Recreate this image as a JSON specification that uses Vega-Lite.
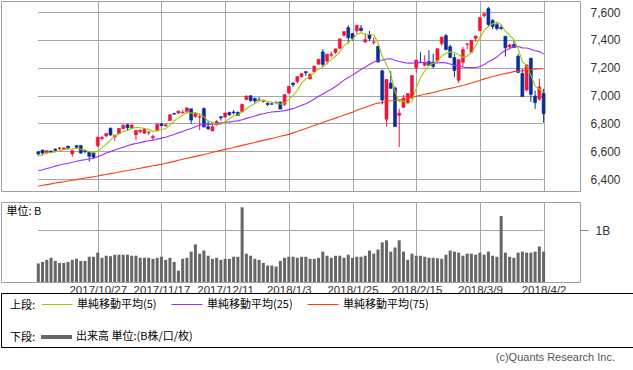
{
 "$schema": "https://vega.github.io/schema/vega-lite/v6.json",
 "padding": 0,
 "background": "white",
 "spacing": 11,
 "bounds": "flush",
 "datasets": {"px": [
{"d":"2017/10/9","o":6596,"h":6600,"l":6570,"c":6580,"v":0.36,"m5":6564,"m25":6459,"m75":6350},
{"d":"2017/10/10","o":6608,"h":6612,"l":6570,"c":6587,"v":0.39,"m5":6575,"m25":6467,"m75":6355},
{"d":"2017/10/11","o":6588,"h":6604,"l":6580,"c":6604,"v":0.43,"m5":6589,"m25":6476,"m75":6360},
{"d":"2017/10/12","o":6598,"h":6610,"l":6585,"c":6592,"v":0.47,"m5":6591,"m25":6483,"m75":6365},
{"d":"2017/10/13","o":6615,"h":6620,"l":6600,"c":6606,"v":0.41,"m5":6594,"m25":6493,"m75":6371},
{"d":"2017/10/16","o":6618,"h":6628,"l":6610,"c":6624,"v":0.37,"m5":6603,"m25":6501,"m75":6376},
{"d":"2017/10/17","o":6616,"h":6625,"l":6610,"c":6624,"v":0.37,"m5":6610,"m25":6508,"m75":6381},
{"d":"2017/10/18","o":6636,"h":6640,"l":6615,"c":6624,"v":0.39,"m5":6614,"m25":6514,"m75":6386},
{"d":"2017/10/19","o":6580,"h":6607,"l":6559,"c":6605,"v":0.43,"m5":6617,"m25":6521,"m75":6391},
{"d":"2017/10/20","o":6640,"h":6645,"l":6620,"c":6629,"v":0.45,"m5":6621,"m25":6528,"m75":6396},
{"d":"2017/10/23","o":6640,"h":6645,"l":6580,"c":6587,"v":0.41,"m5":6614,"m25":6534,"m75":6401},
{"d":"2017/10/24","o":6604,"h":6610,"l":6585,"c":6598,"v":0.41,"m5":6609,"m25":6539,"m75":6407},
{"d":"2017/10/25","o":6594,"h":6597,"l":6525,"c":6564,"v":0.49,"m5":6597,"m25":6544,"m75":6412},
{"d":"2017/10/26","o":6590,"h":6592,"l":6550,"c":6557,"v":0.49,"m5":6587,"m25":6549,"m75":6417},
{"d":"2017/10/27","o":6640,"h":6705,"l":6630,"c":6701,"v":0.57,"m5":6601,"m25":6560,"m75":6422},
{"d":"2017/10/30","o":6690,"h":6712,"l":6682,"c":6699,"v":0.47,"m5":6624,"m25":6573,"m75":6428},
{"d":"2017/10/31","o":6710,"h":6728,"l":6700,"c":6728,"v":0.51,"m5":6650,"m25":6587,"m75":6433},
{"d":"2017/11/1","o":6765,"h":6770,"l":6710,"c":6717,"v":0.50,"m5":6680,"m25":6597,"m75":6439},
{"d":"2017/11/2","o":6704,"h":6715,"l":6675,"c":6715,"v":0.53,"m5":6712,"m25":6608,"m75":6444},
{"d":"2017/11/3","o":6727,"h":6765,"l":6720,"c":6764,"v":0.53,"m5":6725,"m25":6619,"m75":6450},
{"d":"2017/11/6","o":6762,"h":6795,"l":6760,"c":6786,"v":0.53,"m5":6742,"m25":6629,"m75":6456},
{"d":"2017/11/7","o":6791,"h":6795,"l":6752,"c":6768,"v":0.53,"m5":6750,"m25":6639,"m75":6461},
{"d":"2017/11/8","o":6767,"h":6790,"l":6760,"c":6789,"v":0.51,"m5":6764,"m25":6649,"m75":6467},
{"d":"2017/11/9","o":6718,"h":6752,"l":6680,"c":6750,"v":0.51,"m5":6771,"m25":6656,"m75":6472},
{"d":"2017/11/10","o":6741,"h":6755,"l":6730,"c":6751,"v":0.47,"m5":6769,"m25":6662,"m75":6478},
{"d":"2017/11/13","o":6730,"h":6765,"l":6725,"c":6758,"v":0.47,"m5":6763,"m25":6669,"m75":6484},
{"d":"2017/11/14","o":6735,"h":6745,"l":6715,"c":6738,"v":0.47,"m5":6757,"m25":6675,"m75":6489},
{"d":"2017/11/15","o":6696,"h":6720,"l":6680,"c":6706,"v":0.45,"m5":6741,"m25":6679,"m75":6495},
{"d":"2017/11/16","o":6746,"h":6800,"l":6745,"c":6793,"v":0.47,"m5":6749,"m25":6687,"m75":6500},
{"d":"2017/11/17","o":6797,"h":6800,"l":6780,"c":6783,"v":0.49,"m5":6756,"m25":6694,"m75":6506},
{"d":"2017/11/20","o":6783,"h":6792,"l":6775,"c":6791,"v":0.43,"m5":6762,"m25":6701,"m75":6513},
{"d":"2017/11/21","o":6820,"h":6865,"l":6820,"c":6862,"v":0.47,"m5":6787,"m25":6711,"m75":6520},
{"d":"2017/11/22","o":6872,"h":6875,"l":6860,"c":6867,"v":0.39,"m5":6819,"m25":6720,"m75":6527},
{"d":"2017/11/24","o":6874,"h":6890,"l":6870,"c":6889,"v":0.22,"m5":6838,"m25":6732,"m75":6535},
{"d":"2017/11/27","o":6875,"h":6898,"l":6872,"c":6879,"v":0.45,"m5":6858,"m25":6742,"m75":6542},
{"d":"2017/11/28","o":6885,"h":6914,"l":6870,"c":6912,"v":0.47,"m5":6882,"m25":6755,"m75":6549},
{"d":"2017/11/29","o":6905,"h":6906,"l":6795,"c":6824,"v":0.59,"m5":6874,"m25":6764,"m75":6556},
{"d":"2017/11/30","o":6850,"h":6880,"l":6840,"c":6874,"v":0.73,"m5":6876,"m25":6776,"m75":6563},
{"d":"2017/12/1","o":6845,"h":6870,"l":6752,"c":6848,"v":0.55,"m5":6867,"m25":6788,"m75":6570},
{"d":"2017/12/4","o":6907,"h":6915,"l":6770,"c":6775,"v":0.61,"m5":6847,"m25":6791,"m75":6577},
{"d":"2017/12/5","o":6776,"h":6820,"l":6750,"c":6762,"v":0.51,"m5":6817,"m25":6793,"m75":6584},
{"d":"2017/12/6","o":6746,"h":6790,"l":6745,"c":6776,"v":0.45,"m5":6807,"m25":6795,"m75":6592},
{"d":"2017/12/7","o":6790,"h":6825,"l":6785,"c":6813,"v":0.47,"m5":6795,"m25":6799,"m75":6599},
{"d":"2017/12/8","o":6848,"h":6850,"l":6820,"c":6840,"v":0.43,"m5":6793,"m25":6804,"m75":6606},
{"d":"2017/12/11","o":6846,"h":6876,"l":6840,"c":6875,"v":0.45,"m5":6813,"m25":6808,"m75":6613},
{"d":"2017/12/12","o":6878,"h":6885,"l":6855,"c":6862,"v":0.45,"m5":6833,"m25":6811,"m75":6620},
{"d":"2017/12/13","o":6882,"h":6895,"l":6865,"c":6876,"v":0.49,"m5":6853,"m25":6816,"m75":6627},
{"d":"2017/12/14","o":6880,"h":6885,"l":6855,"c":6857,"v":0.49,"m5":6862,"m25":6818,"m75":6635},
{"d":"2017/12/15","o":6885,"h":6940,"l":6880,"c":6937,"v":1.45,"m5":6881,"m25":6826,"m75":6642},
{"d":"2017/12/18","o":6971,"h":7003,"l":6970,"c":6995,"v":0.55,"m5":6905,"m25":6836,"m75":6649},
{"d":"2017/12/19","o":6999,"h":7000,"l":6955,"c":6964,"v":0.51,"m5":6926,"m25":6844,"m75":6656},
{"d":"2017/12/20","o":6981,"h":6984,"l":6945,"c":6961,"v":0.45,"m5":6943,"m25":6853,"m75":6663},
{"d":"2017/12/21","o":6968,"h":6990,"l":6960,"c":6965,"v":0.43,"m5":6964,"m25":6863,"m75":6671},
{"d":"2017/12/22","o":6958,"h":6966,"l":6950,"c":6960,"v":0.37,"m5":6969,"m25":6870,"m75":6678},
{"d":"2017/12/26","o":6945,"h":6950,"l":6925,"c":6936,"v":0.32,"m5":6957,"m25":6876,"m75":6685},
{"d":"2017/12/27","o":6940,"h":6955,"l":6933,"c":6939,"v":0.32,"m5":6952,"m25":6882,"m75":6692},
{"d":"2017/12/28","o":6954,"h":6955,"l":6938,"c":6950,"v":0.30,"m5":6950,"m25":6885,"m75":6699},
{"d":"2017/12/29","o":6954,"h":6955,"l":6902,"c":6903,"v":0.41,"m5":6938,"m25":6887,"m75":6707},
{"d":"2018/1/2","o":6937,"h":7007,"l":6925,"c":7007,"v":0.47,"m5":6947,"m25":6892,"m75":6714},
{"d":"2018/1/3","o":7018,"h":7070,"l":7015,"c":7066,"v":0.49,"m5":6973,"m25":6899,"m75":6721},
{"d":"2018/1/4","o":7090,"h":7095,"l":7063,"c":7078,"v":0.49,"m5":7001,"m25":6906,"m75":6732},
{"d":"2018/1/5","o":7100,"h":7137,"l":7088,"c":7137,"v":0.47,"m5":7038,"m25":6918,"m75":6742},
{"d":"2018/1/8","o":7136,"h":7162,"l":7130,"c":7157,"v":0.49,"m5":7089,"m25":6930,"m75":6753},
{"d":"2018/1/9","o":7172,"h":7175,"l":7140,"c":7164,"v":0.49,"m5":7120,"m25":6942,"m75":6764},
{"d":"2018/1/10","o":7120,"h":7158,"l":7115,"c":7154,"v":0.45,"m5":7138,"m25":6957,"m75":6774},
{"d":"2018/1/11","o":7170,"h":7212,"l":7165,"c":7212,"v":0.45,"m5":7165,"m25":6975,"m75":6785},
{"d":"2018/1/12","o":7225,"h":7262,"l":7225,"c":7261,"v":0.47,"m5":7190,"m25":6995,"m75":6796},
{"d":"2018/1/16","o":7314,"h":7333,"l":7208,"c":7224,"v":0.59,"m5":7203,"m25":7011,"m75":6806},
{"d":"2018/1/17","o":7248,"h":7299,"l":7225,"c":7298,"v":0.51,"m5":7230,"m25":7030,"m75":6817},
{"d":"2018/1/18","o":7290,"h":7316,"l":7275,"c":7296,"v":0.47,"m5":7258,"m25":7046,"m75":6828},
{"d":"2018/1/19","o":7310,"h":7337,"l":7300,"c":7336,"v":0.51,"m5":7283,"m25":7065,"m75":6838},
{"d":"2018/1/22","o":7340,"h":7408,"l":7338,"c":7408,"v":0.51,"m5":7312,"m25":7087,"m75":6849},
{"d":"2018/1/23","o":7433,"h":7461,"l":7425,"c":7460,"v":0.47,"m5":7360,"m25":7111,"m75":6860},
{"d":"2018/1/24","o":7489,"h":7505,"l":7375,"c":7415,"v":0.53,"m5":7383,"m25":7130,"m75":6870},
{"d":"2018/1/25","o":7446,"h":7451,"l":7395,"c":7411,"v":0.47,"m5":7406,"m25":7147,"m75":6881},
{"d":"2018/1/26","o":7465,"h":7506,"l":7445,"c":7506,"v":0.49,"m5":7440,"m25":7168,"m75":6894},
{"d":"2018/1/29","o":7485,"h":7508,"l":7460,"c":7467,"v":0.49,"m5":7452,"m25":7188,"m75":6906},
{"d":"2018/1/30","o":7385,"h":7446,"l":7380,"c":7402,"v":0.51,"m5":7440,"m25":7206,"m75":6916},
{"d":"2018/1/31","o":7440,"h":7465,"l":7390,"c":7411,"v":0.61,"m5":7439,"m25":7224,"m75":6927},
{"d":"2018/2/1","o":7382,"h":7418,"l":7366,"c":7386,"v":0.55,"m5":7434,"m25":7242,"m75":6937},
{"d":"2018/2/2","o":7353,"h":7360,"l":7237,"c":7241,"v":0.63,"m5":7381,"m25":7254,"m75":6946},
{"d":"2018/2/5","o":7178,"h":7188,"l":6936,"c":6968,"v":0.77,"m5":7282,"m25":7255,"m75":6950},
{"d":"2018/2/6","o":6830,"h":7117,"l":6777,"c":7116,"v":0.81,"m5":7224,"m25":7263,"m75":6957},
{"d":"2018/2/7","o":7090,"h":7175,"l":7050,"c":7052,"v":0.59,"m5":7153,"m25":7265,"m75":6963},
{"d":"2018/2/8","o":7055,"h":7065,"l":6777,"c":6777,"v":0.67,"m5":7031,"m25":7254,"m75":6965},
{"d":"2018/2/9","o":6858,"h":6906,"l":6630,"c":6874,"v":0.81,"m5":6957,"m25":7245,"m75":6969},
{"d":"2018/2/12","o":6915,"h":7004,"l":6914,"c":6982,"v":0.59,"m5":6960,"m25":7239,"m75":6974},
{"d":"2018/2/13","o":6951,"h":7014,"l":6944,"c":7014,"v":0.43,"m5":6940,"m25":7233,"m75":6980},
{"d":"2018/2/14","o":6984,"h":7146,"l":6977,"c":7144,"v":0.55,"m5":6958,"m25":7233,"m75":6988},
{"d":"2018/2/15","o":7200,"h":7256,"l":7166,"c":7256,"v":0.51,"m5":7054,"m25":7237,"m75":6995},
{"d":"2018/2/16","o":7240,"h":7311,"l":7238,"c":7239,"v":0.51,"m5":7127,"m25":7238,"m75":7002},
{"d":"2018/2/20","o":7218,"h":7290,"l":7210,"c":7234,"v":0.49,"m5":7177,"m25":7237,"m75":7009},
{"d":"2018/2/21","o":7245,"h":7326,"l":7218,"c":7218,"v":0.47,"m5":7218,"m25":7236,"m75":7016},
{"d":"2018/2/22","o":7240,"h":7300,"l":7195,"c":7210,"v":0.47,"m5":7231,"m25":7233,"m75":7022},
{"d":"2018/2/23","o":7249,"h":7337,"l":7240,"c":7337,"v":0.46,"m5":7248,"m25":7235,"m75":7030},
{"d":"2018/2/26","o":7373,"h":7421,"l":7358,"c":7421,"v":0.45,"m5":7284,"m25":7238,"m75":7038},
{"d":"2018/2/27","o":7431,"h":7443,"l":7330,"c":7330,"v":0.53,"m5":7303,"m25":7235,"m75":7046},
{"d":"2018/2/28","o":7352,"h":7365,"l":7272,"c":7273,"v":0.61,"m5":7314,"m25":7227,"m75":7052},
{"d":"2018/3/1","o":7273,"h":7300,"l":7133,"c":7181,"v":0.59,"m5":7308,"m25":7218,"m75":7058},
{"d":"2018/3/2","o":7110,"h":7260,"l":7090,"c":7258,"v":0.57,"m5":7293,"m25":7212,"m75":7065},
{"d":"2018/3/5","o":7240,"h":7350,"l":7205,"c":7331,"v":0.51,"m5":7275,"m25":7205,"m75":7072},
{"d":"2018/3/6","o":7369,"h":7375,"l":7334,"c":7372,"v":0.55,"m5":7283,"m25":7201,"m75":7081},
{"d":"2018/3/7","o":7311,"h":7398,"l":7308,"c":7397,"v":0.55,"m5":7308,"m25":7201,"m75":7090},
{"d":"2018/3/8","o":7411,"h":7430,"l":7387,"c":7428,"v":0.53,"m5":7357,"m25":7202,"m75":7099},
{"d":"2018/3/9","o":7467,"h":7561,"l":7466,"c":7561,"v":0.57,"m5":7418,"m25":7209,"m75":7109},
{"d":"2018/3/12","o":7575,"h":7598,"l":7561,"c":7588,"v":0.53,"m5":7469,"m25":7222,"m75":7120},
{"d":"2018/3/13","o":7626,"h":7637,"l":7492,"c":7511,"v":0.59,"m5":7497,"m25":7244,"m75":7128},
{"d":"2018/3/14","o":7540,"h":7550,"l":7478,"c":7497,"v":0.51,"m5":7517,"m25":7259,"m75":7137},
{"d":"2018/3/15","o":7510,"h":7525,"l":7469,"c":7482,"v":0.49,"m5":7528,"m25":7277,"m75":7144},
{"d":"2018/3/16","o":7490,"h":7507,"l":7472,"c":7482,"v":1.28,"m5":7512,"m25":7305,"m75":7153},
{"d":"2018/3/19","o":7426,"h":7427,"l":7281,"c":7344,"v":0.57,"m5":7463,"m25":7324,"m75":7158},
{"d":"2018/3/20","o":7350,"h":7373,"l":7336,"c":7364,"v":0.49,"m5":7434,"m25":7339,"m75":7165},
{"d":"2018/3/21","o":7367,"h":7394,"l":7345,"c":7345,"v":0.47,"m5":7403,"m25":7352,"m75":7172},
{"d":"2018/3/22","o":7283,"h":7300,"l":7161,"c":7167,"v":0.57,"m5":7340,"m25":7353,"m75":7176},
{"d":"2018/3/23","o":7159,"h":7191,"l":6992,"c":6993,"v":0.59,"m5":7243,"m25":7343,"m75":7179},
{"d":"2018/3/26","o":7040,"h":7221,"l":7029,"c":7221,"v":0.57,"m5":7218,"m25":7342,"m75":7185},
{"d":"2018/3/27","o":7269,"h":7270,"l":6955,"c":7009,"v":0.57,"m5":7147,"m25":7333,"m75":7188},
{"d":"2018/3/28","o":6997,"h":7035,"l":6904,"c":6949,"v":0.59,"m5":7068,"m25":7322,"m75":7190},
{"d":"2018/3/29","o":6975,"h":7122,"l":6962,"c":7063,"v":0.69,"m5":7047,"m25":7316,"m75":7193},
{"d":"2018/4/2","o":7016,"h":7048,"l":6805,"c":6870,"v":0.59,"m5":7022,"m25":7298,"m75":7193}
 ]},
 "vconcat": [
  {
   "width": 579,
   "height": 190,
   "data": {"name": "px"},
   "encoding": {
    "x": {"field": "d", "type": "ordinal", "sort": null, "title": null,
     "scale": {"type": "point", "padding": 0, "range": [37.3, 542.6]},
     "axis": {"values": ["2017/10/27","2017/11/17","2017/12/11","2018/1/3","2018/1/25","2018/2/15","2018/3/9","2018/4/2"],
      "labels": false, "ticks": false, "domain": false, "grid": true, "title": null}},
    "y": {"type": "quantitative", "title": null,
     "scale": {"domain": [6314, 7680], "nice": false, "zero": false},
     "axis": {"orient": "right", "values": [6400,6600,6800,7000,7200,7400,7600], "format": ",d", "grid": true,
      "ticks": false, "domain": false, "labelPadding": 10, "labelOverlap": false, "labelSeparation": 0, "labelFlush": false, "title": null}}
   },
   "layer": [
    {
     "mark": {"type": "rule", "strokeWidth": 1, "clip": true},
     "encoding": {
      "y": {"field": "l", "type": "quantitative"},
      "y2": {"field": "h"},
      "color": {"condition": {"test": "datum.c >= datum.o", "value": "#f0143c"}, "value": "#0b2e93"}
     }
    },
    {
     "mark": {"type": "bar", "size": 3, "strokeWidth": 0.6, "clip": true},
     "encoding": {
      "y": {"field": "o", "type": "quantitative"},
      "y2": {"field": "c"},
      "color": {"condition": {"test": "datum.c >= datum.o", "value": "#f0143c"}, "value": "#0b2e93"},
      "stroke": {"condition": {"test": "datum.c >= datum.o", "value": "#f0143c"}, "value": "#0b2e93"}
     }
    },
    {
     "transform": [{"fold": ["m75", "m25", "m5"], "as": ["s", "mv"]}],
     "mark": {"type": "line", "strokeWidth": 1.1, "clip": true},
     "encoding": {
      "y": {"field": "mv", "type": "quantitative"},
      "order": {"value": null},
      "color": {"field": "s", "type": "nominal",
       "scale": {"domain": ["m5", "m25", "m75"], "range": ["#99cc00", "#9b30ff", "#ff3d14"]},
       "legend": {
        "title": "上段:", "orient": "none", "legendX": 9, "legendY": 287.5, "direction": "horizontal",
        "titleOrient": "left", "titleAnchor": "middle", "titleBaseline": "top", "titlePadding": 5,
        "titleFont": "Noto Sans CJK JP", "titleFontSize": 11, "titleFontWeight": "normal", "titleColor": "#000",
        "symbolType": "stroke", "symbolSize": 961, "symbolStrokeWidth": 1,
        "labelFont": "Noto Sans CJK JP", "labelFontSize": 11, "labelColor": "#000", "labelOffset": 4,
        "columnPadding": 12, "padding": 0, "labelLimit": 0,
        "labelExpr": "{'m5':'単純移動平均(5)','m25':'単純移動平均(25)','m75':'単純移動平均(75)'}[datum.value]"
       }}
     }
    }
   ]
  },
  {
   "width": 579,
   "height": 80,
   "data": {"name": "px"},
   "mark": {"type": "bar", "size": 3, "clip": true},
   "encoding": {
    "x": {"field": "d", "type": "ordinal", "sort": null, "title": null,
     "scale": {"type": "point", "padding": 0, "range": [37.3, 542.6]},
     "axis": {"values": ["2017/10/27","2017/11/17","2017/12/11","2018/1/3","2018/1/25","2018/2/15","2018/3/9","2018/4/2"],
      "labels": true, "ticks": false, "domain": false, "grid": true, "labelAngle": 0, "labelOverlap": false,
      "labelFontSize": 11.5, "labelPadding": 2, "title": null}},
    "y": {"field": "v", "type": "quantitative",
     "scale": {"domain": [0, 1.553], "nice": false},
     "axis": {"orient": "right", "values": [1], "labelExpr": "'1B'", "grid": true, "ticks": true, "tickSize": 8,
      "tickColor": "#888888", "domain": false, "labelPadding": 7,
      "title": "単位: B", "titleAngle": 0, "titleAlign": "left", "titleBaseline": "middle", "titleX": -574, "titleY": 9,
      "titleFont": "Noto Sans CJK JP", "titleFontSize": 11, "titleFontWeight": "normal", "titleColor": "#000"}},
    "fill": {"datum": "出来高 単位:(B株/口/枚)", "type": "nominal",
     "scale": {"range": ["#666666"]},
     "legend": {
      "title": "下段:", "orient": "none", "legendX": 9, "legendY": 320.5, "direction": "horizontal",
      "titleOrient": "left", "titleAnchor": "middle", "titleBaseline": "top", "titlePadding": 5,
      "titleFont": "Noto Sans CJK JP", "titleFontSize": 11, "titleFontWeight": "normal", "titleColor": "#000",
      "symbolType": "M-1,-0.13H1V0.13H-1Z", "symbolSize": 961, "symbolStrokeWidth": 0,
      "labelFont": "Noto Sans CJK JP", "labelFontSize": 11, "labelColor": "#000", "labelOffset": 4,
      "padding": 0, "labelLimit": 0
     }}
   }
  },
  {
   "width": 632,
   "height": 54,
   "view": {"stroke": "#000000", "strokeWidth": 1},
   "title": {"text": "(c)Quants Research Inc.", "orient": "bottom", "anchor": "end", "frame": "group", "offset": 5, "dx": -18,
    "baseline": "top", "font": "Liberation Sans", "fontSize": 11, "fontWeight": "normal", "color": "#555555"},
   "data": {"values": [{"t": ""}]},
   "mark": {"type": "text"},
   "encoding": {"text": {"field": "t"}}
  }
 ],
 "config": {
  "view": {"stroke": "#a0a0a0", "strokeWidth": 1},
  "axis": {"gridColor": "#a6a6a6", "gridWidth": 1, "labelFont": "Liberation Sans", "labelFontSize": 12, "labelColor": "#333333", "labelOverlap": false}
 }
}
